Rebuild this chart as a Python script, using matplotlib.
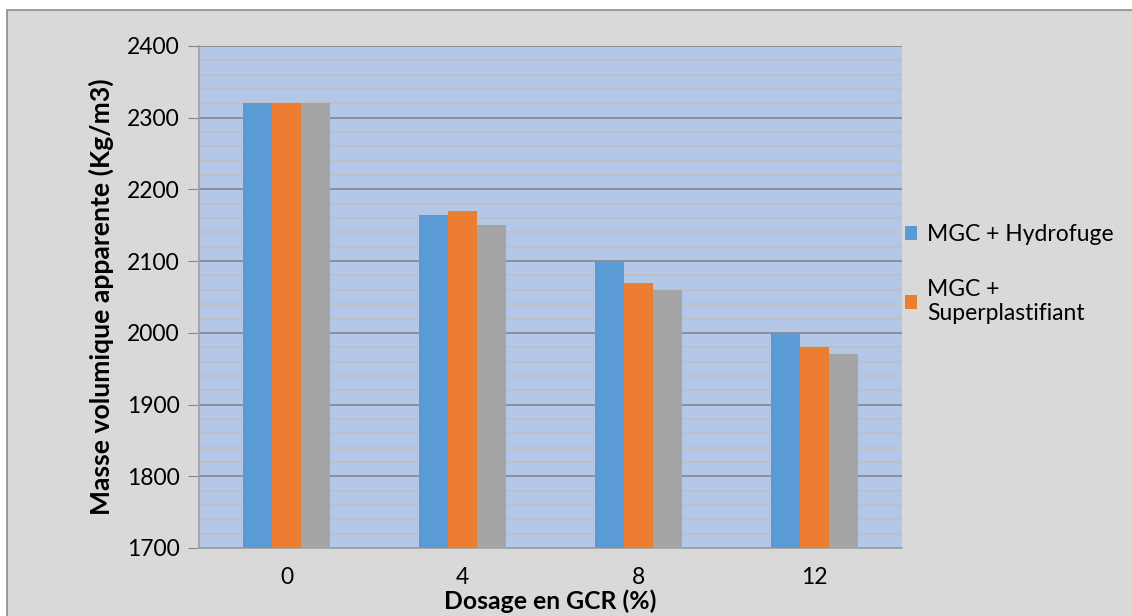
import matplotlib
matplotlib.use('Agg')
import matplotlib.pyplot as plt
import numpy as np
from matplotlib.patches import Rectangle
from matplotlib.ticker import MultipleLocator

categories = ['0', '4', '8', '12']
hydrofuge = [2320, 2165, 2100, 2000]
superplast = [2320, 2170, 2070, 1980]
third = [2320, 2150, 2060, 1970]
series_labels = ['MGC + Hydrofuge', 'MGC +\nSuperplastifiant', None]
colors = ['#5b9bd5', '#ed7d31', '#a5a5a5']

plt.rcParams['font.family'] = ['Lato', 'DejaVu Sans']

W, H = 1132, 616
fig = plt.figure(figsize=(W / 100, H / 100), dpi=100, facecolor='white')
# chart area frame (gray box with thin border)
fig.patches.append(Rectangle((7 / W, -0.01), 1.02, 1 - 10 / H + 0.01, transform=fig.transFigure,
                             facecolor='#d9d9d9', edgecolor='#8c8c8c', lw=1.2, zorder=-10))

ax = fig.add_axes([199 / W, 1 - 548 / H, (902 - 199) / W, (548 - 46) / H])
ax.set_facecolor('#b4c7e7')

x = np.arange(len(categories))
bw = 0.165
for i, (vals, lbl, col) in enumerate(zip([hydrofuge, superplast, third], series_labels, colors)):
    ax.bar(x + (i - 1) * bw, vals, width=bw, color=col, label=lbl if lbl else '_nolegend_',
           zorder=3)

ax.set_xlim(-0.5, len(categories) - 0.5)
ax.set_ylim(1700, 2400)
ax.yaxis.set_major_locator(MultipleLocator(100))
ax.yaxis.set_minor_locator(MultipleLocator(20))
ax.grid(axis='y', which='minor', color='#bfbfbf', lw=1.2, zorder=1)
ax.grid(axis='y', which='major', color='#868686', lw=1.2, zorder=2)
ax.set_axisbelow(True)

ax.set_xticks(x)
ax.set_xticklabels(categories)
ax.tick_params(axis='x', length=0, labelsize=16.5, pad=14)
ax.tick_params(axis='y', which='major', length=8, color='#868686', labelsize=16.5, pad=6)
ax.tick_params(axis='y', which='minor', length=0)
for s in ['top', 'right']:
    ax.spines[s].set_visible(False)
for s in ['left', 'bottom']:
    ax.spines[s].set_color('#a0a0a0')
    ax.spines[s].set_linewidth(1.2)

ax.set_ylabel('Masse volumique apparente (Kg/m3)', fontsize=19.1, fontweight='bold', labelpad=9)
ax.set_xlabel('Dosage en GCR (%)', fontsize=17.8, fontweight='bold', va='top')
ax.xaxis.set_label_coords(0.5, -41 / 502)

leg = ax.legend(loc='upper left', bbox_to_anchor=(0.984, 0.672), frameon=False, fontsize=16.5,
                handlelength=0.55, handleheight=0.55, handletextpad=0.45, labelspacing=1.45,
                borderaxespad=0.2)

fig.savefig('out.png', dpi=100, facecolor='white')
